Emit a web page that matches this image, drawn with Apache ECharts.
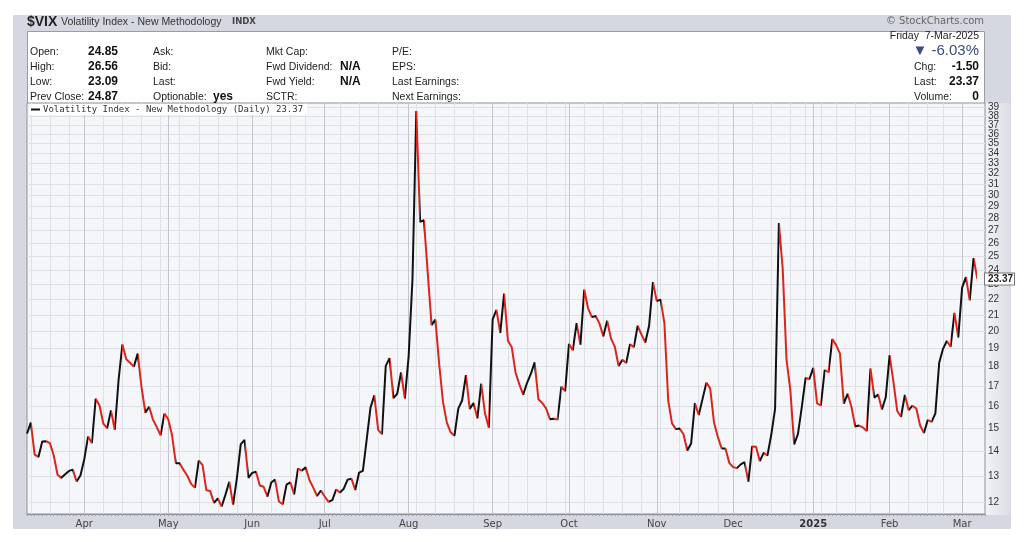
<!DOCTYPE html>
<html><head><meta charset="utf-8">
<script src="https://cdn.jsdelivr.net/npm/echarts@6/dist/echarts.min.js"></script>
<style>html,body{margin:0;padding:0;background:#fff}#c{width:1024px;height:542px}</style>
</head><body><div id="c"></div>
<script>
// ---- calendar (trading days) ----
const firstDay = '2024-03-08';
const lastDay = '2025-03-07';
const holidays = ['2024-03-29','2024-05-27','2024-06-19','2024-07-04','2024-09-02','2024-11-28','2024-12-25','2025-01-01','2025-01-09','2025-01-20','2025-02-17'];

// ---- VIX daily closes, by month ----
const mar24 = [14.74,15.23,13.85,13.75,14.40,14.41,14.33,13.82,13.04,12.92,13.06,13.19,13.24,12.78,13.01];
const apr24 = [13.65,14.61,14.33,16.35,16.03,15.19,14.98,15.80,14.91,17.31,19.23,18.40,18.21,18.00,18.71,16.94,15.69,15.97,15.37,15.03,14.67,15.65];
const may24 = [15.39,14.68,13.49,13.49,13.23,13.00,12.69,12.55,13.60,13.42,12.45,12.42,11.99,12.15,11.86,12.29,12.77,11.93,12.92,14.28,14.47,12.92];
const jun24 = [13.11,13.16,12.63,12.58,12.22,12.74,12.85,12.04,11.94,12.66,12.75,12.30,13.28,13.20,13.33,12.84,12.55,12.24,12.44];
const jul24 = [12.22,12.03,12.09,12.48,12.37,12.51,12.85,12.89,12.46,13.12,13.19,14.48,15.93,16.52,14.91,14.72,18.04,18.46,16.39,16.60,17.69,16.36];
const aug24 = [18.59,23.39,38.57,27.71,27.85,23.79,20.37,20.71,18.12,16.19,15.23,14.80,14.65,15.88,16.27,17.55,15.86,16.15,15.43,17.11,15.65,15.00];
const sep24 = [20.72,21.32,19.90,22.38,19.45,19.08,17.69,17.07,16.56,17.14,17.61,18.23,16.33,16.15,15.89,15.39,15.41,15.37,16.96,16.73];
const oct24 = [19.26,18.90,20.49,19.21,22.64,21.42,20.86,20.93,20.46,19.70,20.64,19.58,19.11,18.03,18.37,18.20,19.24,19.08,20.33,19.80,19.34,20.35,23.16];
const nov24 = [21.88,21.98,20.49,16.27,15.20,14.94,14.97,14.71,14.02,14.31,16.14,15.58,16.35,17.16,16.87,15.24,14.60,14.10,14.10,13.51];
const dec24 = [13.34,13.30,13.45,13.54,12.77,14.19,14.18,13.58,13.92,13.81,14.69,15.87,27.62,24.09,18.36,16.78,14.27,14.73,15.95,17.40,17.35];
const jan25 = [17.93,16.13,16.04,17.82,17.70,19.54,19.19,18.71,16.12,16.60,15.97,15.06,15.10,15.02,14.85,17.90,16.41,16.56,15.84,16.43];
const feb25 = [18.62,17.21,15.77,15.50,16.54,15.81,16.02,15.89,15.10,14.77,15.35,15.27,15.66,18.21,18.98,19.43,19.10,21.13,19.63];
const mar25 = [22.78,23.51,21.93,24.87,23.37];

// ---- axis labels (split by parity so none get auto-hidden) ----
const yTicksEven = [12,14,16,18,20,22,24,26,28,30,32,34,36,38];
const yTicksOdd = [13,15,17,19,21,23,25,27,29,31,33,35,37,39];
const monthLabels = ['2025','Feb','Mar','Apr','May','Jun','Jul','Aug','Sep','Oct','Nov','Dec'];
const lastValueLabel = '23.37';
const seriesName = 'Volatility Index - New Methodology (Daily) 23.37';

// ---- header texts ----
const infoCols = [
  {x:30, rows:['Open:','High:','Low:','Prev Close:']},
  {x:153, rows:['Ask:','Bid:','Last:','Optionable:']},
  {x:266, rows:['Mkt Cap:','Fwd Dividend:','Fwd Yield:','SCTR:']},
  {x:392, rows:['P/E:','EPS:','Last Earnings:','Next Earnings:']}
];
const infoVals = [
  {x:88, rows:['24.85','26.56','23.09','24.87']},
  {x:213, rows:['','','','yes']},
  {x:340, rows:['','N/A','N/A','']}
];
const rightLabels = ['Chg:','Last:','Volume:'];
const rightVals = ['-1.50','23.37','0'];

const values = [].concat(mar24,apr24,may24,jun24,jul24,aug24,sep24,oct24,nov24,dec24,jan25,feb25,mar25);

function tradingDays(a, b, hol){
  const out=[]; const d=new Date(a+'T00:00:00Z'); const e=new Date(b+'T00:00:00Z');
  while(d<=e){
    const s=d.toISOString().slice(0,10); const w=d.getUTCDay();
    if(w!==0&&w!==6&&hol.indexOf(s)<0) out.push(s);
    d.setUTCDate(d.getUTCDate()+1);
  }
  return out;
}
const dates = tradingDays(firstDay,lastDay,holidays);
const cats = dates.concat(['','']);

function isMonthStart(i){ return i>0 && i<dates.length && dates[i].slice(5,7)!==dates[i-1].slice(5,7); }
function isWeekStart(i){
  if(i<=0||i>=dates.length) return false;
  const a=new Date(dates[i]+'T00:00:00Z').getUTCDay(), b=new Date(dates[i-1]+'T00:00:00Z').getUTCDay();
  return a<=b;
}

const pieces=[{lte:0,color:'#111'}];
for(let i=1;i<values.length;i++){
  pieces.push({gt:i-1,lte:i,color: values[i]>=values[i-1] ? '#111111' : '#d8261c'});
}

const F='"Liberation Sans", Arial, sans-serif';
const graphic=[];
function T(x,y,text,font,fill,align,z){
  graphic.push({type:'text',x:x,y:y,z:z||100,silent:true,style:{text:text,font:font,fill:fill||'#222',textAlign:align||'left',textVerticalAlign:'middle'}});
}
graphic.push({type:'rect',z:-100,silent:true,shape:{x:13,y:15,width:998,height:514},style:{fill:'#d5d8e0'}});
graphic.push({type:'rect',z:-99,silent:true,shape:{x:985,y:103,width:26,height:412},
  style:{fill:new echarts.graphic.LinearGradient(0,0,1,0,[{offset:0,color:'#f2f3f6'},{offset:1,color:'#d9dce3'}])}});
graphic.push({type:'rect',z:-98,silent:true,shape:{x:27.5,y:31.5,width:957,height:72},style:{fill:'#ffffff',stroke:'#9a9ca4',lineWidth:1}});

T(27,22,'$VIX','bold 14px '+F,'#222');
T(61,22,'Volatility Index - New Methodology','10.5px '+F,'#333');
T(232,22,'INDX','bold 8.5px "DejaVu Sans", sans-serif','#444');
T(984,21,'\u00A9 StockCharts.com','10px "DejaVu Sans", sans-serif','#666','right');

const rowY=[52,67,82,97];
infoCols.forEach(c=>c.rows.forEach((t,k)=>T(c.x,rowY[k],t,'10.5px '+F,'#222')));
infoVals.forEach(c=>c.rows.forEach((t,k)=>{ if(t) T(c.x,rowY[k],t,'bold 12px '+F,'#111'); }));
T(979,36,'Friday  7-Mar-2025','10.5px '+F,'#222','right');
T(979,51,'\u25BC -6.03%','15px '+F,'#3a4c80','right');
rightLabels.forEach((t,k)=>T(914,rowY[k+1],t,'10.5px '+F,'#222'));
rightVals.forEach((t,k)=>T(979,rowY[k+1],t,'bold 12px '+F,'#111','right'));

function yAxisFor(ticks){
  return {type:'log',logBase:10,min:11.6,max:39.5,position:'right',
    axisLine:{show:false},
    axisTick:{show:false,customValues:ticks},
    axisLabel:{customValues:ticks,showMinLabel:true,showMaxLabel:true,hideOverlap:false,margin:3,fontSize:10,color:'#333',fontFamily:F,
      formatter:(v)=>String(Math.round(v))},
    splitLine:{show:true,lineStyle:{color:'#dfe0e6',width:1}}};
}

const chart=echarts.init(document.getElementById('c'),null,{renderer:'canvas'});
chart.setOption({
  animation:false,
  backgroundColor:'#ffffff',
  graphic:graphic,
  grid:{left:27,right:39,top:103,bottom:28,show:true,backgroundColor:'#f5f6fa',borderColor:'#8e9098',borderWidth:1,z:0},
  legend:{show:true,left:29,top:104,icon:'rect',itemWidth:9,itemHeight:2,itemGap:0,padding:[1,4,1,2],
    backgroundColor:'#ffffff',textStyle:{fontFamily:'"DejaVu Sans Mono", monospace',fontSize:9,color:'#333',padding:[0,0,0,-2]},
    data:[{name:seriesName,itemStyle:{color:'#111'}}]},
  visualMap:{type:'piecewise',show:false,dimension:0,seriesIndex:0,pieces:pieces},
  xAxis:[{
    type:'category',data:cats,boundaryGap:false,
    axisLine:{show:true,lineStyle:{color:'#8e9098'}},
    axisTick:{show:true,interval:0,length:2,inside:false,lineStyle:{color:'#9a9ca4'}},
    axisLabel:{interval:(i)=>isMonthStart(i),margin:5,fontSize:10,color:'#444',fontFamily:'"DejaVu Sans", sans-serif',
      formatter:(v)=>{ if(!v) return ''; const m=parseInt(v.slice(5,7),10)-1; return m===0?'{b|'+monthLabels[0]+'}':monthLabels[m]; },
      rich:{b:{fontWeight:'bold',fontSize:10,color:'#333',fontFamily:'"DejaVu Sans", sans-serif'}}},
    splitLine:{show:true,interval:(i)=>isWeekStart(i),lineStyle:{color:'#dfe0e6',width:1}}
  },{
    type:'category',data:cats,boundaryGap:false,position:'bottom',
    axisLine:{show:false},axisTick:{show:false},axisLabel:{show:false},
    splitLine:{show:true,interval:(i)=>isMonthStart(i),lineStyle:{color:'#c3c5cc',width:1}}
  }],
  yAxis:[yAxisFor(yTicksEven), yAxisFor(yTicksOdd)],
  series:[{
    type:'line',name:seriesName,data:values,xAxisIndex:0,yAxisIndex:0,symbol:'none',showSymbol:false,
    lineStyle:{width:2},itemStyle:{color:'#111'},z:5,
    markLine:{symbol:'none',silent:true,animation:false,lineStyle:{color:'rgba(0,0,0,0)',width:0,type:'solid'},
      data:[{yAxis:values[values.length-1]}],
      label:{show:true,position:'end',distance:0,formatter:lastValueLabel,backgroundColor:'#ffffff',borderColor:'#777',borderWidth:1,
        padding:[1,1,0,3],fontSize:10,fontWeight:'bold',color:'#222',fontFamily:F}}
  }]
});
</script></body></html>
